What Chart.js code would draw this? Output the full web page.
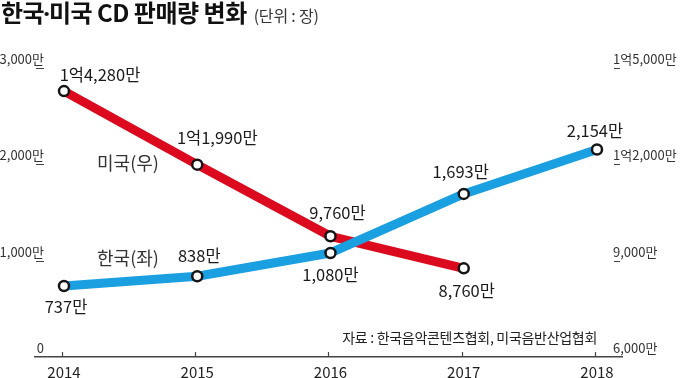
<!DOCTYPE html>
<html><head><meta charset="utf-8">
<script src="https://cdn.jsdelivr.net/npm/chart.js@4"></script>
<style>
html,body{margin:0;padding:0;background:#fff;}
#wrap{position:relative;width:680px;height:378px;overflow:hidden;font-family:"Noto Sans CJK KR",sans-serif;background:#fff;}
#c{position:absolute;left:0;top:0;}
#title{position:absolute;left:1px;top:0;font-size:24px;line-height:24px;font-weight:700;color:#111;letter-spacing:-0.5px;white-space:nowrap;}
#title .dot{font-family:"Noto Sans",sans-serif;letter-spacing:0;margin:0 -1px;}
#title .unit{font-size:16px;font-weight:400;color:#333;margin-left:2px;letter-spacing:-0.2px}
#source{position:absolute;right:83px;top:330px;font-size:14px;line-height:14px;color:#222;white-space:nowrap;letter-spacing:-0.3px}
</style></head>
<body><div id="wrap"><canvas id="c" width="680" height="378"></canvas>
<div id="title">한국<span class="dot">·</span>미국 CD 판매량 변화 <span class="unit">(단위 : 장)</span></div>
<div id="source">자료 : 한국음악콘텐츠협회, 미국음반산업협회</div>
</div>
<script>
// ---- data (unit: 만 장) ----
const years = [2014, 2015, 2016, 2017, 2018];
const koreaSales = [737, 838, 1080, 1693, 2154];     // left axis
const usSales = [14280, 11990, 9760, 8760];          // right axis (2014-2017)
const leftTicks = [0, 1000, 2000, 3000];
const leftTickLabels = ['0', '1,000만', '2,000만', '3,000만'];
const rightTicks = [6000, 9000, 12000, 15000];
const rightTickLabels = ['6,000만', '9,000만', '1억2,000만', '1억5,000만'];
const seriesNames = ['한국(좌)', '미국(우)'];

// ---- label placement (pixels relative to point) ----
const koreaLabelOffset = [[2,21],[2,-21],[0,22],[-3,-22],[-2,-19]];
const usLabelOffset = [[36,-16],[20,-27],[7,-24],[3,22]];
const koreaNameAnchor = {x: 2014.48, y: 1028};
const usNameAnchor = {x: 2014.48, y: 12041};

const FONT = "'Noto Sans CJK KR', sans-serif";
const RED = '#dc0a1e', BLUE = '#1a9fe0';

function fmtMan(v){
  const eok = Math.floor(v/10000), rest = v % 10000;
  return (eok ? eok + '억' : '') + rest.toLocaleString('en-US') + '만';
}

const overlay = {
  id: 'overlay',
  afterDatasetsDraw(chart){
    const ctx = chart.ctx;
    const xs = chart.scales.x, yl = chart.scales.yL, yr = chart.scales.yR;
    ctx.save();
    ctx.strokeStyle = '#444'; ctx.lineWidth = 1.2;
    // upward tick marks on x axis
    xs.ticks.forEach(t => {
      const px = Math.round(xs.getPixelForValue(t.value)) - 1.5;
      ctx.beginPath(); ctx.moveTo(px, xs.top); ctx.lineTo(px, xs.top - 5); ctx.stroke();
    });
    // y tick labels + underlines
    ctx.font = '13px ' + FONT;
    ctx.fillStyle = '#333';
    ctx.textBaseline = 'middle';
    ctx.lineWidth = 1;
    yl.ticks.forEach(t => {
      const py = yl.getPixelForValue(t.value);
      ctx.textAlign = 'right';
      ctx.fillText(leftTickLabels[leftTicks.indexOf(t.value)], yl.right + 9, py - 9);
      if (t.value !== leftTicks[0]) {
        const ly = Math.round(py) + 0.5;
        ctx.beginPath(); ctx.moveTo(yl.right + 1, ly); ctx.lineTo(yl.right + 9, ly); ctx.stroke();
      }
    });
    yr.ticks.forEach(t => {
      const py = yr.getPixelForValue(t.value);
      ctx.textAlign = 'left';
      ctx.fillText(rightTickLabels[rightTicks.indexOf(t.value)], yr.left - 9, py - 9);
      if (t.value !== rightTicks[0]) {
        const ly = Math.round(py) + 0.5;
        ctx.beginPath(); ctx.moveTo(yr.left - 8, ly); ctx.lineTo(yr.left - 2, ly); ctx.stroke();
      }
    });
    // value labels
    ctx.textAlign = 'center';
    ctx.fillStyle = '#1a1a1a';
    ctx.font = '16.5px ' + FONT;
    const drawVals = (dsIndex, values, offsets) => {
      const meta = chart.getDatasetMeta(dsIndex);
      meta.data.forEach((pt, i) => {
        ctx.fillText(fmtMan(values[i]), pt.x + offsets[i][0], pt.y + offsets[i][1]);
      });
    };
    drawVals(0, koreaSales, koreaLabelOffset);
    drawVals(1, usSales, usLabelOffset);
    // series names
    ctx.font = '18px ' + FONT;
    ctx.fillStyle = '#333';
    ctx.fillText(seriesNames[0], xs.getPixelForValue(koreaNameAnchor.x), yl.getPixelForValue(koreaNameAnchor.y));
    ctx.fillText(seriesNames[1], xs.getPixelForValue(usNameAnchor.x), yr.getPixelForValue(usNameAnchor.y));
    ctx.restore();
  }
};

const pointStyle = {
  pointRadius: 5, pointBorderWidth: 2.5, pointBorderColor: '#151515',
  pointBackgroundColor: '#fff', tension: 0, borderJoinStyle: 'round', borderCapStyle: 'round'
};

new Chart(document.getElementById('c'), {
  type: 'line',
  data: {
    datasets: [
      Object.assign({
        label: seriesNames[0],
        data: years.map((y, i) => ({x: y, y: koreaSales[i]})),
        borderColor: BLUE, borderWidth: 9, yAxisID: 'yL'
      }, pointStyle),
      Object.assign({
        label: seriesNames[1],
        data: usSales.map((v, i) => ({x: years[i], y: v})),
        borderColor: RED, borderWidth: 9, yAxisID: 'yR'
      }, pointStyle)
    ]
  },
  options: {
    responsive: false, animation: false, events: [],
    layout: {padding: {top: 68, left: 0, right: 0, bottom: 0}},
    plugins: {legend: {display: false}, tooltip: {enabled: false}},
    scales: {
      x: {
        type: 'linear', bounds: 'data', min: 2013.7824, max: 2018.1877,
        grid: {display: false, drawTicks: false},
        border: {display: true, color: '#444', width: 1.5},
        afterBuildTicks: s => { s.ticks = years.map(v => ({value: v})); },
        ticks: {
          padding: 6, autoSkip: false, maxRotation: 0,
          color: '#222', font: {family: FONT, size: 15},
          callback: v => String(v)
        },
        afterFit: s => { s.height = 21; }
      },
      yL: {
        type: 'linear', position: 'left', min: 0, max: 3000,
        grid: {display: false, drawTicks: false}, border: {display: false},
        afterBuildTicks: s => { s.ticks = leftTicks.map(v => ({value: v})); },
        ticks: {display: false},
        afterFit: s => { s.width = 35; }
      },
      yR: {
        type: 'linear', position: 'right', min: 6000, max: 15000,
        grid: {display: false, drawTicks: false}, border: {display: false},
        afterBuildTicks: s => { s.ticks = rightTicks.map(v => ({value: v})); },
        ticks: {display: false},
        afterFit: s => { s.width = 58; }
      }
    }
  },
  plugins: [overlay]
});
</script>
</body></html>
